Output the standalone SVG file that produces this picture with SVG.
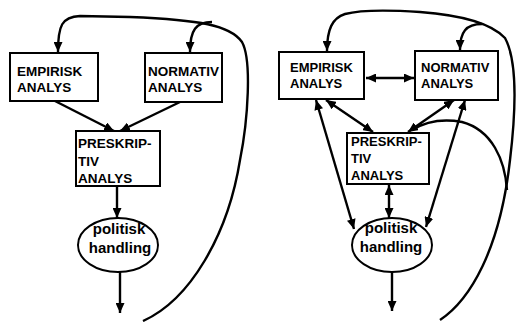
<svg xmlns="http://www.w3.org/2000/svg" width="516" height="322" viewBox="0 0 516 322">
<style>
.box{fill:#fff;stroke:#000;stroke-width:2}
.ell{fill:#fff;stroke:#000;stroke-width:2}
.t{font-family:"Liberation Sans",Arial,sans-serif;font-weight:bold;font-size:13.5px;fill:#000}
.ts{font-family:"Liberation Sans",Arial,sans-serif;font-weight:bold;font-size:13px;fill:#000}
.tl{font-family:"Liberation Sans",Arial,sans-serif;font-weight:bold;font-size:15px;fill:#000}
.c{fill:none;stroke:#000;stroke-width:2.4}
.a{marker-end:url(#ah)}
.d{marker-start:url(#ah);marker-end:url(#ah)}
</style>
<defs>
<marker id="ah" markerUnits="userSpaceOnUse" markerWidth="11" markerHeight="9" refX="10" refY="4.5" orient="auto-start-reverse">
<path d="M0,0 L10,4.5 L0,9 z" fill="#000"/>
</marker>
</defs>
<rect width="516" height="322" fill="#fff"/>
<g id="connectors">
<path class="c a" d="M55,101 L114,131"/>
<path class="c a" d="M180,102 L120,131"/>
<path class="c a" d="M117,186 L117,218"/>
<path class="c a" d="M120,272 L120,313"/>
<path class="c a" d="M143,321 C190,300 228,235 240,160 C248,120 252,60 242,42 C230,25 200,20 130,17 L80,16 C62,17 58,25 58,52"/>
<path class="c a" d="M212,22 C196,22 190,30 190,52"/>
<path class="c d" d="M366,78 L414,78"/>
<path class="c d" d="M326,100 L373,132"/>
<path class="c d" d="M454,100 L408,132"/>
<path class="c d" d="M465,100 L426,227"/>
<path class="c d" d="M316,100 L354,229"/>
<path class="c d" d="M389,185 L389,218"/>
<path class="c a" d="M392,272 L392,311"/>
<path class="c a" d="M440,320 C470,300 500,250 510,160 C516,110 517,60 505,38 C490,22 460,15 420,12 C390,10 360,10 345,14 C332,18 327,30 327,51"/>
<path class="c a" d="M482,24 C466,24 460,32 460,50"/>
<path class="c" d="M507,190 C505,160 492,130 462,122 C440,118 425,122 412,130"/>
</g>
<g id="empirisk-left">
<rect class="box" x="10" y="53" width="88" height="48"/>
<text class="t" x="17" y="76">EMPIRISK</text>
<text class="t" x="17" y="92">ANALYS</text>
</g>
<g id="normativ-left">
<rect class="box" x="145" y="53" width="77" height="49"/>
<text class="t" x="148" y="76">NORMATIV</text>
<text class="t" x="148" y="92">ANALYS</text>
</g>
<g id="preskriptiv-left">
<rect class="box" x="76" y="131" width="84" height="55"/>
<text class="t" x="78" y="148">PRESKRIP-</text>
<text class="t" x="78" y="166">TIV</text>
<text class="t" x="78" y="183">ANALYS</text>
</g>
<g id="politisk-left">
<ellipse class="ell" cx="118" cy="245" rx="40" ry="27"/>
<text class="tl" x="119" y="234" text-anchor="middle">politisk</text>
<text class="tl" x="120" y="253" text-anchor="middle">handling</text>
</g>
<g id="empirisk-right">
<rect class="box" x="279" y="52" width="85" height="47"/>
<text class="ts" x="290" y="72">EMPIRISK</text>
<text class="ts" x="290" y="88">ANALYS</text>
</g>
<g id="normativ-right">
<rect class="box" x="415" y="51" width="83" height="49"/>
<text class="ts" x="421" y="72">NORMATIV</text>
<text class="ts" x="421" y="88">ANALYS</text>
</g>
<g id="preskriptiv-right">
<rect class="box" x="347" y="133" width="82" height="51"/>
<text class="ts" x="351" y="146">PRESKRIP-</text>
<text class="ts" x="351" y="163">TIV</text>
<text class="ts" x="351" y="180">ANALYS</text>
</g>
<g id="politisk-right">
<ellipse class="ell" cx="392" cy="245" rx="40" ry="27"/>
<text class="tl" x="391" y="233" text-anchor="middle">politisk</text>
<text class="tl" x="391" y="252" text-anchor="middle">handling</text>
</g>
</svg>
